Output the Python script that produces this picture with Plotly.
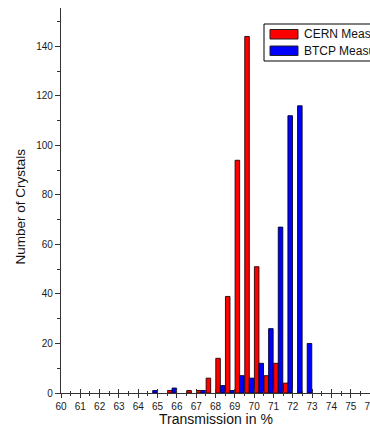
import plotly.graph_objects as go

# Transmission bins (bin centres, %) and crystal counts per bin
cern_bins = [65.75, 66.75, 67.25, 67.75, 68.25, 68.75, 69.25, 69.75, 70.25, 70.75, 71.25, 71.75]
cern_counts = [1, 1, 1, 6, 14, 39, 94, 144, 51, 7, 12, 4]

btcp_bins = [64.75, 65.75, 67.25, 68.25, 68.75, 69.25, 69.75, 70.25, 70.75, 71.25, 71.75, 72.25, 72.75]
btcp_counts = [1, 2, 1, 3, 1, 7, 6, 12, 26, 67, 112, 116, 20]

series_names = ["CERN Measurements", "BTCP Measurements"]
series_colors = ["#ff0000", "#0000ff"]

x_ticks = list(range(60, 77))
y_ticks = list(range(0, 160, 20))

FONT = "Liberation Sans, Arial, sans-serif"
AXIS_COLOR = "#333333"
BAR_W = 0.235

fig = go.Figure()
fig.add_trace(go.Bar(
    x=cern_bins, y=cern_counts, name=series_names[0],
    width=BAR_W, offset=-BAR_W,
    marker=dict(color=series_colors[0], line=dict(color="#2a0000", width=0.9)),
    showlegend=False,
))
fig.add_trace(go.Bar(
    x=btcp_bins, y=btcp_counts, name=series_names[1],
    width=BAR_W, offset=0,
    marker=dict(color=series_colors[1], line=dict(color="#00002a", width=0.9)),
    showlegend=False,
))

# invisible trace on the overlay axis so its inside ticks get drawn
fig.add_trace(go.Scatter(x=[60], y=[0], xaxis="x2", mode="markers",
                         marker=dict(opacity=0), showlegend=False, hoverinfo="skip"))

xcommon = dict(range=[60, 76], tickmode="array", tickvals=x_ticks)
fig.update_layout(
    width=370, height=435,
    margin=dict(l=61, r=0, t=8, b=42, autoexpand=False),
    paper_bgcolor="white", plot_bgcolor="white",
    barmode="overlay",
    font=dict(family=FONT, size=10, color="#222222"),
    xaxis=dict(
        **xcommon,
        ticktext=[str(v) for v in x_ticks],
        showline=True, linecolor=AXIS_COLOR, linewidth=1.2,
        ticks="outside", ticklen=4, tickwidth=1, tickcolor=AXIS_COLOR,
        minor=dict(dtick=0.5, ticks="outside", ticklen=2, tickwidth=1, tickcolor=AXIS_COLOR),
        showgrid=False, zeroline=False,
        tickfont=dict(size=10, color="#1a1a1a"),
        ticklabeloverflow="allow",
    ),
    xaxis2=dict(
        **xcommon,
        overlaying="x", anchor="y", side="bottom",
        showline=False, showticklabels=False,
        ticks="inside", ticklen=4, tickwidth=1, tickcolor=AXIS_COLOR,
        minor=dict(dtick=0.5, ticks="inside", ticklen=2, tickwidth=1, tickcolor=AXIS_COLOR),
        showgrid=False, zeroline=False,
    ),
    yaxis=dict(
        range=[0, 155.5], tickmode="array", tickvals=y_ticks,
        showline=True, linecolor=AXIS_COLOR, linewidth=1.2,
        ticks="outside", ticklen=5, tickwidth=1, tickcolor=AXIS_COLOR,
        minor=dict(dtick=10, ticks="outside", ticklen=3, tickwidth=1, tickcolor=AXIS_COLOR),
        showgrid=False, zeroline=False,
        tickfont=dict(size=10, color="#1a1a1a"),
    ),
)

annotations = [
    dict(text="Transmission in %", xref="paper", yref="paper", x=0.5, y=0,
         yshift=-26, xanchor="center", yanchor="middle", showarrow=False,
         font=dict(family=FONT, size=14, color="#111111")),
    dict(text="Number of Crystals", xref="paper", yref="paper", x=0, xshift=-41,
         y=0.5, yshift=-6, textangle=-90, xanchor="center", yanchor="middle",
         showarrow=False, font=dict(family=FONT, size=13.5, color="#111111")),
]

# legend box with wide colour swatches
shapes = [dict(type="rect", xref="paper", yref="paper",
               x0=(264 - 61) / 309, x1=1.3, y0=(393 - 61) / 385, y1=(393 - 24) / 385,
               line=dict(color="black", width=1), fillcolor="white", layer="above")]
rows = [(29.5, 39), (46, 55.5)]
for (top, bot), name, color in zip(rows, series_names, series_colors):
    shapes.append(dict(type="rect", xref="paper", yref="paper",
                       x0=(270 - 61) / 309, x1=(298 - 61) / 309,
                       y0=(393 - bot) / 385, y1=(393 - top) / 385,
                       line=dict(color="#222222", width=1), fillcolor=color, layer="above"))
    annotations.append(dict(text=name, xref="paper", yref="paper",
                            x=(302 - 61) / 309, y=(393 - (top + bot) / 2) / 385,
                            xanchor="left", yanchor="middle", showarrow=False,
                            font=dict(family=FONT, size=12, color="#111111")))

fig.update_layout(shapes=shapes, annotations=annotations)

fig.write_html("out.html")
